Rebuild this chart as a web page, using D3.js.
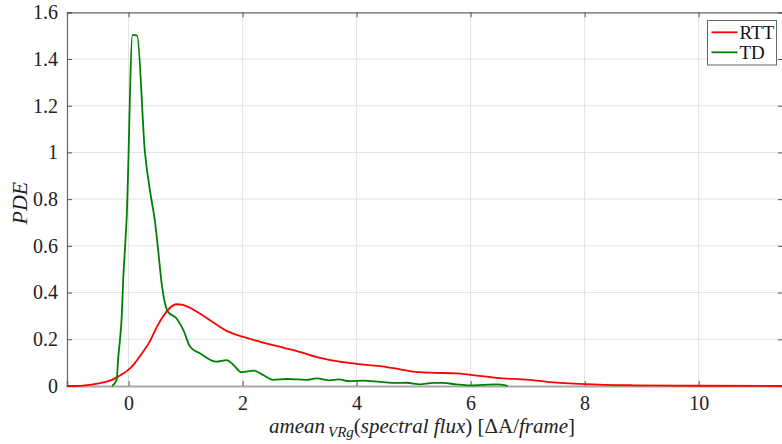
<!DOCTYPE html>
<html><head><meta charset="utf-8">
<script src="https://cdn.jsdelivr.net/npm/d3@7"></script>
<style>
body{margin:0;background:#fff}
svg{display:block}
#chart, #chart text, #chart tspan{font-family:'Liberation Serif', serif !important}
</style>
</head><body>
<svg id="chart" width="782" height="444" style="font-family:'Liberation Serif', serif"></svg>
<script>
const xTicks = [0, 2, 4, 6, 8, 10];
const yTicks = [0, 0.2, 0.4, 0.6, 0.8, 1, 1.2, 1.4, 1.6];
const seriesNames = ["RTT", "TD"];
const rttX = [-1.08,-0.8,-0.5,-0.3,-0.2,-0.1,0,0.1,0.2,0.37,0.5,0.61,0.72,0.84,0.95,1.1,1.25,1.5,1.72,2.0,2.3,2.71,3.0,3.36,3.7,4.0,4.41,4.7,4.99,5.3,5.75,6.0,6.46,7.04,7.39,8.0,8.85,10,11.48];
const rttY = [0,0.002,0.012,0.025,0.038,0.052,0.07,0.095,0.128,0.19,0.255,0.3,0.333,0.35,0.347,0.332,0.31,0.27,0.236,0.211,0.19,0.164,0.146,0.12,0.104,0.095,0.085,0.074,0.062,0.057,0.054,0.048,0.035,0.026,0.017,0.008,0.003,0.001,0];
const tdX = [-0.29,-0.21,-0.18,-0.15,-0.12,-0.095,-0.065,-0.035,0.07,0.15,0.286,0.4,0.46,0.52,0.58,0.69,0.84,0.96,1.08,1.25,1.54,1.72,1.84,1.98,2.2,2.36,2.54,2.77,3.12,3.3,3.53,3.68,3.88,4.12,4.41,4.7,4.88,5.11,5.34,5.52,5.75,5.99,6.46,6.65];
const tdY = [0,0.026,0.125,0.2,0.297,0.45,0.58,0.71,1.503,1.5,1.003,0.8,0.71,0.58,0.44,0.318,0.29,0.24,0.168,0.14,0.104,0.111,0.09,0.059,0.066,0.047,0.026,0.03,0.026,0.033,0.024,0.028,0.021,0.023,0.018,0.013,0.014,0.007,0.013,0.013,0.007,0.003,0.007,0.001];
const colors = ["#ff0000", "#008000"];

(function () {
const FF = "'Liberation Serif', serif";
const svg = d3.select("#chart");
const L = 67, R = 783, T = 12.3, B = 386;
const x = d3.scaleLinear().domain([-1.08, 11.48]).range([L, R]);
const y = d3.scaleLinear().domain([0, 1.6]).range([B, T]);

// grid
svg.append("g").selectAll("line").data(xTicks).join("line")
  .attr("x1", d => x(d)).attr("x2", d => x(d)).attr("y1", T).attr("y2", B)
  .attr("stroke", "#e3e3e3").attr("stroke-width", 1);
svg.append("g").selectAll("line").data(yTicks.slice(1, -1)).join("line")
  .attr("x1", L).attr("x2", R).attr("y1", d => y(d)).attr("y2", d => y(d))
  .attr("stroke", "#e3e3e3").attr("stroke-width", 1);

// axes (ticks inward)
const ax = svg.append("g");
const gB = ax.append("g").attr("transform", `translate(0,${B})`)
  .call(d3.axisBottom(x).tickValues(xTicks).tickSize(-5).tickPadding(10).tickFormat(d3.format("d")));
const gT = ax.append("g").attr("transform", `translate(0,${T})`)
  .call(d3.axisTop(x).tickValues(xTicks).tickSize(-5).tickFormat(""));
const gL = ax.append("g").attr("transform", `translate(${L},0)`)
  .call(d3.axisLeft(y).tickValues(yTicks).tickSize(-5).tickPadding(9).tickFormat(d => d3.format("~g")(d)));
const gR = ax.append("g").attr("transform", `translate(${R},0)`)
  .call(d3.axisRight(y).tickValues(yTicks).tickSize(-5).tickFormat(""));
[gB, gT, gL, gR].forEach(g => {
  g.attr("font-family", FF);
  g.selectAll(".domain").attr("stroke", "#666").attr("stroke-width", 1.2);
  g.selectAll(".tick line").attr("stroke", "#555");
  g.selectAll("text").attr("font-size", 20).attr("fill", "#222")
    .attr("font-family", FF).style("font-family", FF);
});
gB.select(".domain").attr("stroke", "#a8a8a8").attr("stroke-width", 2);

// lines
const line = d3.line().x(d => x(d[0])).y(d => y(d[1])).curve(d3.curveMonotoneX);
const data = [d3.zip(rttX, rttY), d3.zip(tdX, tdY)];
svg.append("g").selectAll("path").data(data).join("path")
  .attr("d", line).attr("fill", "none")
  .attr("stroke", (d, i) => colors[i]).attr("stroke-width", 1.8);

// labels
svg.append("text").attr("transform", `translate(27,${(T + B) / 2 + 4}) rotate(-90)`)
  .attr("text-anchor", "middle").attr("font-style", "italic").style("font-family", FF)
  .attr("font-size", 22).attr("fill", "#222").text("PDE");

const xl = svg.append("text").attr("x", (L + R) / 2 - 3).attr("y", 433).style("font-family", FF)
  .attr("text-anchor", "middle").attr("font-size", 21).attr("fill", "#222");
xl.append("tspan").attr("font-style", "italic").text("amean");
xl.append("tspan").attr("font-style", "italic").attr("font-size", 15).attr("dy", 4).attr("dx", 3).text("VRg");
xl.append("tspan").attr("dy", -4).text("(");
xl.append("tspan").attr("font-style", "italic").text("spectral flux");
xl.append("tspan").text(") [ΔA/");
xl.append("tspan").attr("font-style", "italic").text("frame");
xl.append("tspan").text("]");

// legend
const lg = svg.append("g");
lg.append("rect").attr("x", 707.5).attr("y", 20.5).attr("width", 69).attr("height", 44.5)
  .attr("fill", "#fff").attr("stroke", "#666").attr("stroke-width", 1);
seriesNames.forEach((n, i) => {
  const yy = 32.3 + i * 20;
  lg.append("line").attr("x1", 711.5).attr("x2", 737.5).attr("y1", yy).attr("y2", yy)
    .attr("stroke", colors[i]).attr("stroke-width", 1.8);
  lg.append("text").attr("x", 739.5).attr("y", yy + 6.5).style("font-family", FF)
    .attr("font-size", 19).attr("fill", "#111").text(n);
});
})();
</script>
</body></html>
